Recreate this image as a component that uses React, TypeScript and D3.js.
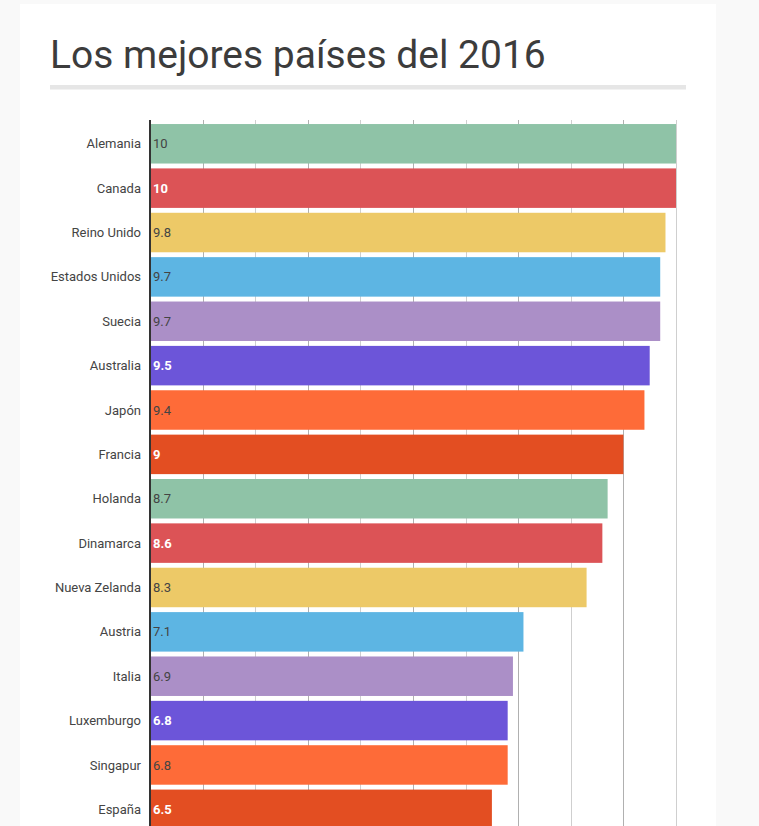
import * as d3 from "d3";

const title = "Los mejores países del 2016";

const countries = [
  "Alemania", "Canada", "Reino Unido", "Estados Unidos", "Suecia", "Australia",
  "Japón", "Francia", "Holanda", "Dinamarca", "Nueva Zelanda", "Austria",
  "Italia", "Luxemburgo", "Singapur", "España",
];

const scores = [10, 10, 9.8, 9.7, 9.7, 9.5, 9.4, 9, 8.7, 8.6, 8.3, 7.1, 6.9, 6.8, 6.8, 6.5];

const palette = ["#8fc3a7", "#dc5356", "#edc967", "#5db5e3", "#ab8fc7", "#6c55d9", "#fe6b38", "#e34e22"];

// the darker colours get a white bold label
const whiteLabel = [false, true, false, false, false, true, false, true];

const gridTicks = [1, 2, 3, 4, 5, 6, 7, 8, 9, 10];

export default function App() {
  const width = 759;
  const height = 826;
  const left = 150;
  const right = 676;
  const step = 44.37;

  const x = d3.scaleLinear([0, 10], [left, right]);
  const y = d3
    .scaleBand<string>()
    .domain(countries)
    .range([121.6, 121.6 + countries.length * step])
    .paddingInner(0.11)
    .paddingOuter(0.055);

  return (
    <div style={{ position: "absolute", left: 0, top: 0 }}>
      <svg width={width} height={height} style={{ display: "block", fontFamily: "Roboto, sans-serif" }}>
        <rect x={0} y={0} width={width} height={height} fill="#f9f9f9" />
        <rect x={20} y={4} width={696} height={height} fill="#ffffff" />

        <text x={50} y={68} fontSize={39} fill="#3c3c3c">{title}</text>
        <rect x={50} y={85} width={636} height={4.5} fill="#e6e6e6" />

        {gridTicks.map((t) => (
          <line
            key={t}
            x1={Math.round(x(t)) + 0.5}
            x2={Math.round(x(t)) + 0.5}
            y1={120}
            y2={height}
            stroke={t % 2 === 0 ? "#cfcfcf" : "#b0b0b0"}
            strokeWidth={1}
          />
        ))}

        {countries.map((c, i) => {
          const ci = i % palette.length;
          const yy = y(c)!;
          const bh = y.bandwidth();
          return (
            <g key={c}>
              <rect x={x(0)} y={yy} width={x(scores[i]) - x(0)} height={bh} fill={palette[ci]} />
              <text
                x={left - 9}
                y={yy + bh / 2}
                dy="0.35em"
                textAnchor="end"
                fontSize={13}
                fill="#444"
              >
                {c}
              </text>
              <text
                x={left + 3}
                y={yy + bh / 2}
                dy="0.35em"
                fontSize={13}
                fontWeight={whiteLabel[ci] ? "bold" : "normal"}
                fill={whiteLabel[ci] ? "#ffffff" : "#444"}
              >
                {scores[i]}
              </text>
            </g>
          );
        })}

        <line x1={x(0)} x2={x(0)} y1={120} y2={height} stroke="#333" strokeWidth={2} />
      </svg>
    </div>
  );
}
